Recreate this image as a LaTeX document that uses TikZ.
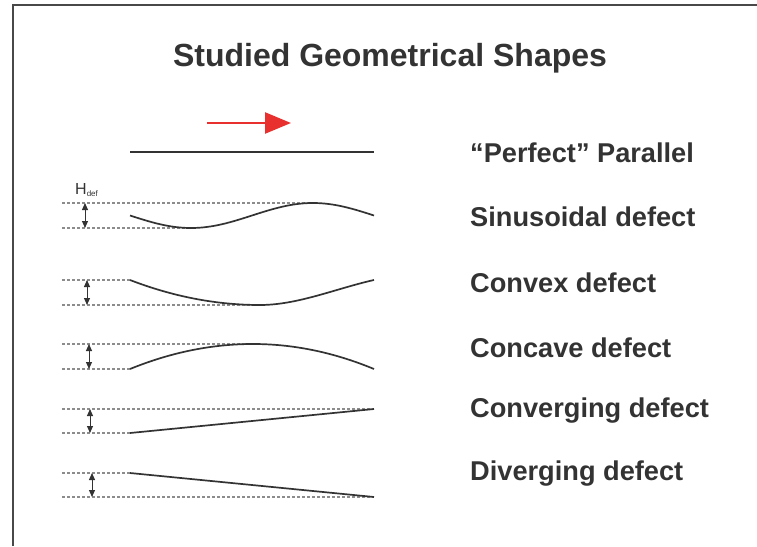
\documentclass[tikz,border=0pt]{standalone}
\usepackage{fontspec}
\setmainfont{Liberation Sans}
\usetikzlibrary{arrows.meta}
\definecolor{shapegray}{RGB}{51,51,51}
\definecolor{dashgray}{RGB}{140,140,140}
\definecolor{framegray}{RGB}{72,72,72}
\definecolor{feedred}{RGB}{232,49,47}

\begin{document}
\begin{tikzpicture}[x=1pt, y=-1pt,
    titlelabel/.style={font=\fontsize{32}{36}\selectfont\bfseries, text=shapegray, anchor=base, inner sep=0pt},
    shapelabel/.style={font=\fontsize{27.2}{30}\selectfont\bfseries, text=shapegray, anchor=base west, inner sep=0pt},
    profile/.style={shapegray, line width=1.7pt},
    refline/.style={dashgray, line width=1.2pt, dash pattern=on 3pt off 2pt},
    hdefarrow/.style={shapegray, line width=1pt,
                 {Triangle[length=7pt,width=6pt]}-{Triangle[length=7pt,width=6pt]}}
]

\useasboundingbox (0,0) rectangle (757,546);
\draw[framegray, line width=2pt] (13,546) -- (13,5) -- (757,5);

\def\xa{130}
\def\xb{374}
\def\xdash{62}

\node[titlelabel] (title) at (390,66) {Studied Geometrical Shapes};

% feed direction
\coordinate (feedstart) at (207,123);
\coordinate (feedend) at (291,123);
\draw[feedred, line width=2.4pt, -{Triangle[length=26pt,width=21pt]}] (feedstart) -- (feedend);

\node[font=\fontsize{16}{18}\selectfont, text=shapegray, anchor=base west, inner sep=0pt] (hdef) at (75,194)
    {H\raisebox{-2.5pt}{\fontsize{8}{9}\selectfont def}};

% reference lines and height arrows
\foreach \yt/\yb/\ax/\xt/\xl in {203/228/85/315/190, 280/305/87/130/260, 344/369/89/253/130,
                                 409/433/90/374/130, 473/497/92/130/374} {
    \draw[refline] (\xdash,\yt) -- (\xt,\yt);
    \draw[refline] (\xdash,\yb) -- (\xl,\yb);
    \draw[hdefarrow] (\ax,\yt) -- (\ax,\yb);
}

% profiles
\draw[profile] (\xa,152) -- (\xb,152);
\draw[profile] plot[domain=\xa:\xb, samples=80] (\x, {215.5+12.5*sin(1.47541*(\x-\xa))});
\draw[profile] (\xa,280) .. controls (173.3,296.7) and (216.7,305) .. (260,305)
               .. controls (298,305) and (336.7,288.3) .. (\xb,280);
\draw[profile] (\xa,369) .. controls (171,352.3) and (212,344) .. (253,344)
               .. controls (293.3,344) and (333.7,352.3) .. (\xb,369);
\draw[profile] (\xa,433) -- (\xb,409);
\draw[profile] (\xa,473) -- (\xb,497);

\foreach \name/\yb/\txt in {parallel/162/{“Perfect” Parallel}, sinus/226/{Sinusoidal defect},
                           convex/292/{Convex defect}, concave/357/{Concave defect},
                           converging/417/{Converging defect}, diverging/480/{Diverging defect}} {
    \node[shapelabel] (\name) at (470,\yb) {\txt};
}

\end{tikzpicture}
\end{document}
